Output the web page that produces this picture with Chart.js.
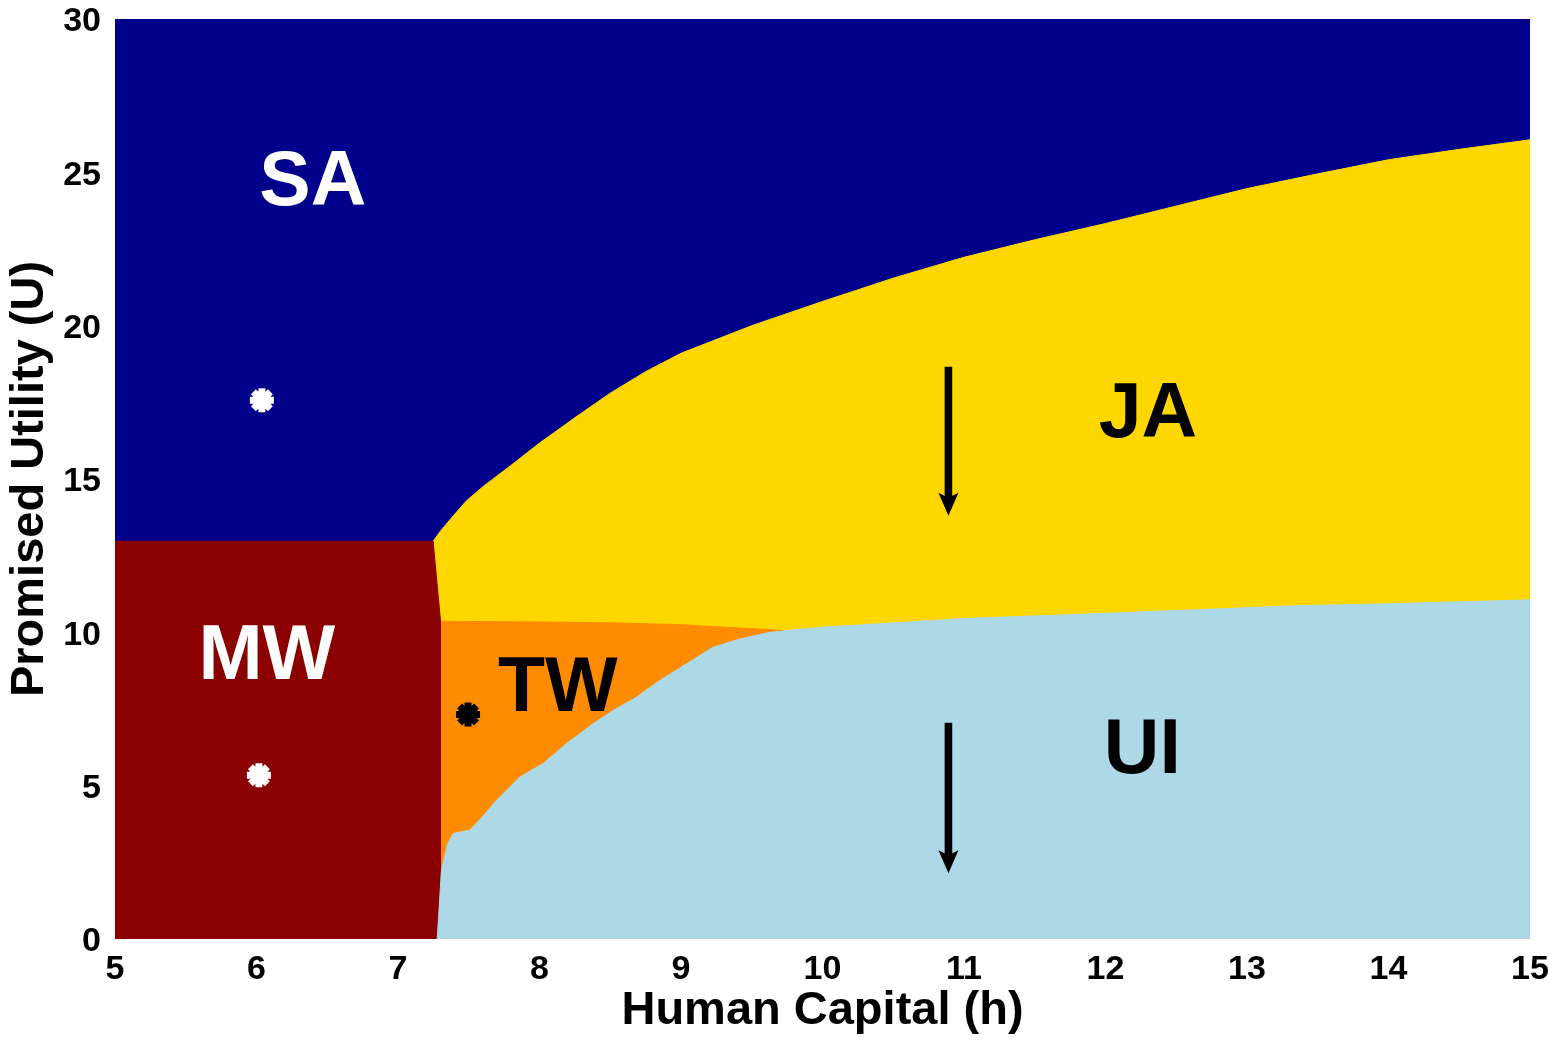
<!DOCTYPE html>
<html>
<head>
<meta charset="utf-8">
<title>Promised Utility vs Human Capital</title>
<script src="https://cdn.jsdelivr.net/npm/chart.js@4/dist/chart.umd.min.js"></script>
<style>
  html, body { margin: 0; padding: 0; background: #ffffff; }
  #wrap { width: 1549px; height: 1040px; }
</style>
</head>
<body>
<div id="wrap"><canvas id="chart" width="1549" height="1040"></canvas></div>
<script>
// ---- Region boundaries (human capital h, promised utility U) ----
// SA fills the whole plane behind everything else
const saX = [5, 15];
const saY = [30, 30];

// Upper edge of the JA region (boundary with SA)
const jaX = [7.248, 7.30, 7.40, 7.484, 7.6, 7.8, 8.0, 8.25, 8.5, 8.75, 9.0, 9.5, 10.0, 10.5, 11.0, 11.5, 12.0, 12.5, 13.0, 13.5, 14.0, 14.5, 15.0];
const jaY = [12.97, 13.3, 13.85, 14.29, 14.75, 15.45, 16.17, 17.0, 17.8, 18.5, 19.1, 20.0, 20.79, 21.55, 22.23, 22.8, 23.33, 23.9, 24.47, 24.95, 25.41, 25.75, 26.06];

// Upper edge of the TW region (boundary with JA)
const twX = [7.30, 8.0, 8.5, 9.0, 9.22, 9.5, 9.72];
const twY = [10.36, 10.34, 10.31, 10.25, 10.19, 10.12, 10.06];

// MW block on the left
const mwX = [5, 7.248, 7.30, 7.30];
const mwY = [12.97, 12.97, 10.4, 0];

// Upper edge of the UI region
const uiX = [7.277, 7.307, 7.35, 7.39, 7.507, 7.6, 7.696, 7.86, 8.025, 8.19, 8.378, 8.52, 8.684, 8.849, 9.037, 9.225, 9.414, 9.626, 9.98, 11.0, 12.0, 13.37, 14.0, 15.0];
const uiY = [0, 2.25, 3.1, 3.44, 3.55, 4.0, 4.52, 5.28, 5.72, 6.37, 7.02, 7.45, 7.88, 8.43, 8.97, 9.51, 9.78, 10.0, 10.16, 10.45, 10.62, 10.87, 10.93, 11.06];

// Marked points
const markerX = [6.038, 6.017, 7.495];
const markerY = [17.57, 5.34, 7.32];

// Downward arrows (x, start U, end U)
const arrowX = [10.89, 10.89];
const arrowFrom = [18.66, 7.05];
const arrowTo = [13.8, 2.14];

// Region names and where they sit (centre h, baseline U)
const regionNames = ['SA', 'MW', 'TW', 'JA', 'UI'];
const regionH = [6.398, 6.073, 8.13, 12.30, 12.26];
const regionU = [23.92, 8.49, 7.45, 16.37, 5.40];
const regionInk = ['#ffffff', '#ffffff', '#000000', '#000000', '#000000'];

const xTicks = [5, 6, 7, 8, 9, 10, 11, 12, 13, 14, 15];
const yTicks = [0, 5, 10, 15, 20, 25, 30];

const pts = (xs, ys) => xs.map((x, i) => ({ x: x, y: ys[i] }));
const FONT = "'Liberation Sans', Arial, Helvetica, sans-serif";

function area(label, xs, ys, color, order) {
  return {
    type: 'line',
    label: label,
    data: pts(xs, ys),
    order: order,
    borderColor: color,
    borderWidth: 1,
    backgroundColor: color,
    fill: 'origin',
    pointRadius: 0,
    tension: 0
  };
}

// Region labels and arrows drawn on top of the filled areas
const overlay = {
  id: 'overlay',
  afterDatasetsDraw(chart) {
    const { ctx, scales: { x, y } } = chart;
    ctx.save();
    ctx.font = "bold 77px " + FONT;
    ctx.textAlign = 'center';
    ctx.textBaseline = 'alphabetic';
    regionNames.forEach((t, i) => {
      ctx.fillStyle = regionInk[i];
      ctx.fillText(t, x.getPixelForValue(regionH[i]), y.getPixelForValue(regionU[i]));
    });
    ctx.fillStyle = '#000000';
    arrowX.forEach((ax, i) => {
      const px = x.getPixelForValue(ax);
      const top = y.getPixelForValue(arrowFrom[i]);
      const tip = y.getPixelForValue(arrowTo[i]);
      const headLen = 23, headHalf = 10, notch = 5;
      ctx.fillRect(px - 3.8, top, 7.6, tip - headLen + notch - top);
      ctx.beginPath();
      ctx.moveTo(px, tip);
      ctx.lineTo(px - headHalf, tip - headLen);
      ctx.lineTo(px, tip - headLen + notch);
      ctx.lineTo(px + headHalf, tip - headLen);
      ctx.closePath();
      ctx.fill();
    });
    ctx.restore();
  }
};

const tickFont = { family: FONT, size: 34, weight: 'bold' };
const titleFont = { family: FONT, size: 47, weight: 'bold' };

new Chart(document.getElementById('chart'), {
  type: 'line',
  data: {
    datasets: [
      {
        type: 'scatter',
        label: 'points',
        data: pts(markerX, markerY),
        order: 0,
        pointStyle: 'star',
        pointRadius: 12,
        pointBorderWidth: 7,
        pointBorderColor: ['#ffffff', '#ffffff', '#000000'],
        pointBackgroundColor: ['#ffffff', '#ffffff', '#000000'],
        showLine: false
      },
      area('UI', uiX, uiY, '#add8e6', 1),
      area('MW', mwX, mwY, '#8b0000', 2),
      area('TW', twX, twY, '#ff8c00', 3),
      area('JA', jaX, jaY, '#ffd700', 4),
      area('SA', saX, saY, '#00008b', 5)
    ]
  },
  options: {
    responsive: false,
    animation: false,
    events: [],
    layout: { padding: { top: 17, right: 18, left: 0, bottom: 0 } },
    plugins: {
      legend: { display: false },
      tooltip: { enabled: false },
      filler: { propagate: false }
    },
    scales: {
      x: {
        type: 'linear',
        min: 5, max: 15,
        afterBuildTicks(s) { s.ticks = xTicks.map(v => ({ value: v })); },
        ticks: { font: tickFont, color: '#000000', padding: 10, maxRotation: 0 },
        grid: { display: false, drawTicks: false },
        border: { display: false },
        title: { display: true, text: 'Human Capital (h)', font: titleFont, color: '#000000', padding: { top: 0, bottom: 1 } },
        afterFit(s) { s.height = 101; s.paddingLeft = 0; s.paddingRight = 0; }
      },
      y: {
        type: 'linear',
        min: 0, max: 30,
        afterBuildTicks(s) { s.ticks = yTicks.map(v => ({ value: v })); },
        ticks: { font: tickFont, color: '#000000', padding: 14, labelOffset: 3 },
        grid: { display: false, drawTicks: false },
        border: { display: false },
        title: { display: true, text: 'Promised Utility (U)', font: titleFont, color: '#000000', padding: { top: 2, bottom: 0 } },
        afterFit(s) { s.width = 115; s.paddingTop = 0; s.paddingBottom = 0; }
      }
    }
  },
  plugins: [overlay]
});
</script>
</body>
</html>
